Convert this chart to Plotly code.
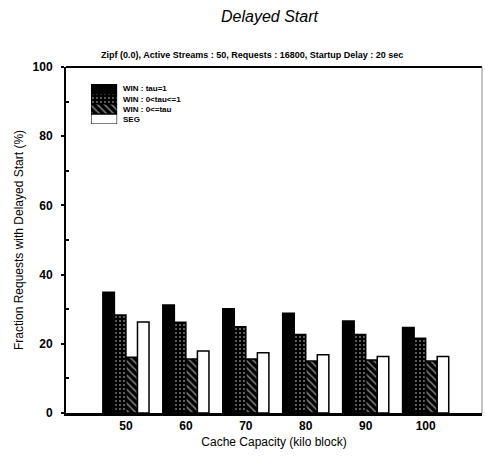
import plotly.graph_objects as go

capacity = [50, 60, 70, 80, 90, 100]
series_names = ["WIN : tau=1", "WIN : 0<tau<=1", "WIN : 0<=tau", "SEG"]
win_tau1 = [34.9, 31.2, 30.1, 28.8, 26.6, 24.7]
win_mid = [28.3, 26.2, 24.9, 22.7, 22.7, 21.6]
win_low = [16.1, 15.6, 15.6, 15.0, 15.3, 15.0]
seg = [26.3, 17.9, 17.4, 16.8, 16.3, 16.3]

FONT = "Liberation Sans, Arial, sans-serif"

fills = ["black", "black", "black", "white"]
pshapes = ["", ".", "\\", ""]
psizes = [4, 4, 5, 4]
psolid = [0.3, 0.18, 0.3, 0.3]

fig = go.Figure()
for name, vals, c, ps, sz, so in zip(series_names, [win_tau1, win_mid, win_low, seg],
                                     fills, pshapes, psizes, psolid):
    marker = dict(color=c, line=dict(color="black", width=1.5),
                  pattern=dict(shape=ps, fgcolor="white", bgcolor="black", size=sz, solidity=so))
    fig.add_trace(go.Bar(x=capacity, y=vals, name=name, marker=marker, showlegend=False))

# compact legend drawn as stacked swatches on an inset axis
legend_rows = list(range(len(series_names)))[::-1]
fig.add_trace(go.Bar(
    x=[1] * len(series_names), y=legend_rows, orientation="h",
    xaxis="x2", yaxis="y2", showlegend=False, hoverinfo="skip",
    width=1,
    marker=dict(color=fills, line=dict(color="black", width=1.2),
                pattern=dict(shape=pshapes, fgcolor="white", bgcolor="black",
                             size=psizes, solidity=psolid)),
))

annotations = [
    dict(text="<i>Delayed Start</i>", x=0.49, y=1.145, xref="paper", yref="paper",
         xanchor="center", yanchor="middle", showarrow=False, font=dict(size=16)),
    dict(text="Zipf (0.0), Active Streams : 50, Requests : 16800, Startup Delay : 20 sec",
         x=0.447, y=1.035, xref="paper", yref="paper", xanchor="center", yanchor="middle",
         showarrow=False, font=dict(size=9, weight="bold")),
]
for name, r in zip(series_names, legend_rows):
    annotations.append(dict(text=name, x=0.133, y=r, xref="paper", yref="y2",
                            xanchor="left", yanchor="middle", showarrow=False,
                            font=dict(size=8, weight="bold")))

fig.update_layout(
    width=485, height=456,
    margin=dict(l=66, r=3, t=67, b=43),
    paper_bgcolor="white", plot_bgcolor="white",
    barmode="group", bargap=0.23, bargroupgap=0,
    font=dict(family=FONT, color="black"),
    annotations=annotations,
    xaxis=dict(
        range=[40, 109.4], tickvals=capacity, ticktext=[str(c) for c in capacity],
        showline=True, linecolor="black", linewidth=3, mirror=False,
        ticks="", showgrid=False, zeroline=False,
        tickfont=dict(size=12, weight="bold"),
        title=dict(text="Cache Capacity (kilo block)", font=dict(size=12), standoff=6),
    ),
    yaxis=dict(
        range=[0, 100], tickvals=[0, 20, 40, 60, 80, 100],
        showline=True, linecolor="black", linewidth=2, mirror=False,
        ticks="outside", ticklen=3, tickwidth=2, tickcolor="black", ticklabelstandoff=6,
        minor=dict(tickvals=[10, 30, 50, 70, 90], ticks="inside", ticklen=3, tickwidth=2,
                   tickcolor="black"),
        showgrid=False, zeroline=False,
        tickfont=dict(size=12, weight="bold"),
        title=dict(text="Fraction Requests with Delayed Start (%)", font=dict(size=12), standoff=6),
    ),
    xaxis2=dict(domain=[0.06, 0.123], range=[0, 1], visible=False, anchor="y2", fixedrange=True),
    yaxis2=dict(domain=[0.835, 0.951], range=[-0.5, 3.5], visible=False, anchor="x2", fixedrange=True),
)

fig.add_shape(type="line", xref="paper", yref="paper", x0=0, x1=1, y0=1, y1=1,
              line=dict(color="black", width=2))
fig.add_shape(type="line", xref="paper", yref="paper", x0=1, x1=1, y0=0, y1=1,
              line=dict(color="#888", width=1))

fig.write_html("out.html")
